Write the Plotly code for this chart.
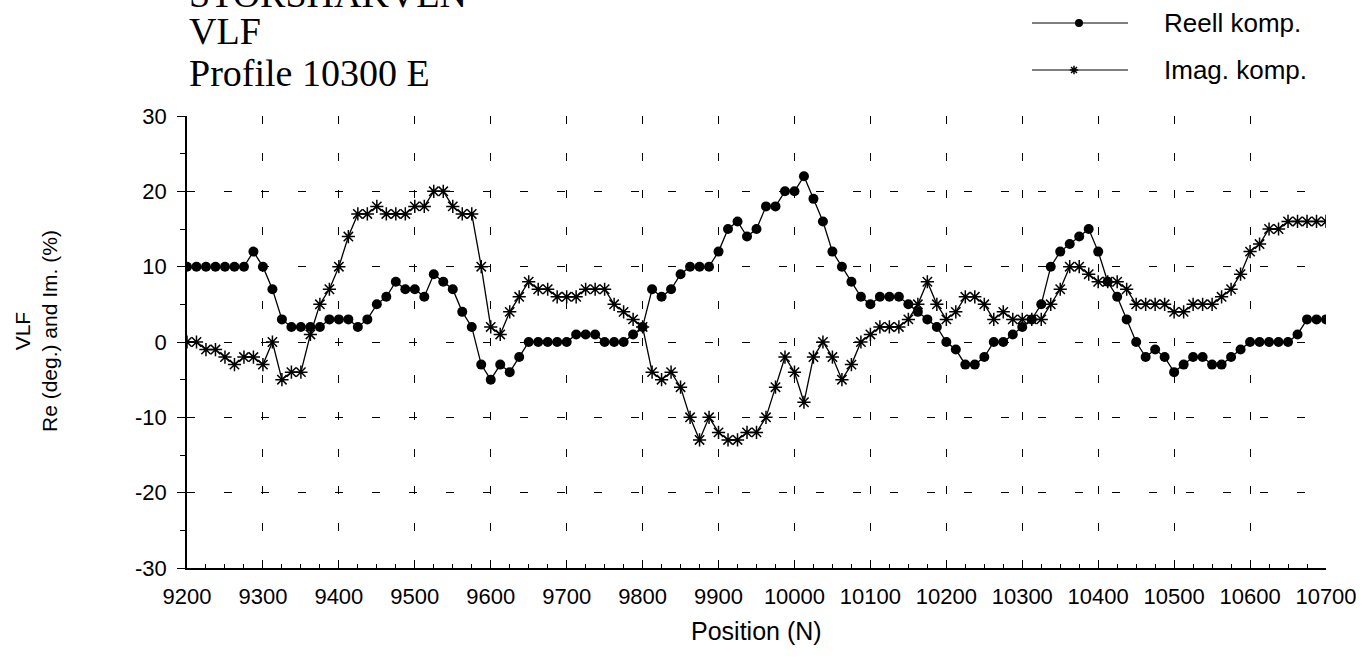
import plotly.graph_objects as go

# Station positions along the profile (N), every 12.5 m
positions = [9200 + 12.5 * i for i in range(121)]

# Real component (deg.)
reell = [10, 10, 10, 10, 10, 10, 10, 12, 10, 7,
         3, 2, 2, 2, 2, 3, 3, 3, 2, 3,
         5, 6, 8, 7, 7, 6, 9, 8, 7, 4,
         2, -3, -5, -3, -4, -2, 0, 0, 0, 0,
         0, 1, 1, 1, 0, 0, 0, 1, 2, 7,
         6, 7, 9, 10, 10, 10, 12, 15, 16, 14,
         15, 18, 18, 20, 20, 22, 19, 16, 12, 10,
         8, 6, 5, 6, 6, 6, 5, 4, 3, 2,
         0, -1, -3, -3, -2, 0, 0, 1, 2, 3,
         5, 10, 12, 13, 14, 15, 12, 8, 6, 3,
         0, -2, -1, -2, -4, -3, -2, -2, -3, -3,
         -2, -1, 0, 0, 0, 0, 0, 1, 3, 3,
         3]

# Imaginary component (%)
imag = [0, 0, -1, -1, -2, -3, -2, -2, -3, 0,
        -5, -4, -4, 1, 5, 7, 10, 14, 17, 17,
        18, 17, 17, 17, 18, 18, 20, 20, 18, 17,
        17, 10, 2, 1, 4, 6, 8, 7, 7, 6,
        6, 6, 7, 7, 7, 5, 4, 3, 2, -4,
        -5, -4, -6, -10, -13, -10, -12, -13, -13, -12,
        -12, -10, -6, -2, -4, -8, -2, 0, -2, -5,
        -3, 0, 1, 2, 2, 2, 3, 5, 8, 5,
        3, 4, 6, 6, 5, 3, 4, 3, 3, 3,
        3, 5, 7, 10, 10, 9, 8, 8, 8, 7,
        5, 5, 5, 5, 4, 4, 5, 5, 5, 6,
        7, 9, 12, 13, 15, 15, 16, 16, 16, 16,
        16]

x_ticks = list(range(9200, 10701, 100))
y_ticks = list(range(-30, 31, 10))

title_lines = ["STORSHAKVEN", "VLF", "Profile 10300 E"]
series_names = ["Reell komp.", "Imag. komp."]

SANS = "Liberation Sans, Arial, Helvetica, sans-serif"
SERIF = "Liberation Serif, Times New Roman, serif"
INK = "black"

W, H = 1365, 663
ML, MR, MB = 187, 39, 95
PLOT_TOP = 116                      # pixel row of the +30 line
plot_h = H - MB                     # paper height (top margin is zero)
plot_w = W - ML - MR
y_top = (plot_h - PLOT_TOP) / plot_h
BAND = 0.80                         # helper band for the legend samples
band_px = (1 - BAND) * plot_h


def paper_y(px):
    """Convert a pixel row (from the top of the page) to paper units."""
    return (plot_h - px) / plot_h


def paper_x(px):
    """Convert a pixel column (from the left of the page) to paper units."""
    return (px - ML) / plot_w


dot = dict(symbol="circle", size=10, color=INK)
star = dict(symbol="asterisk-open", size=11, color=INK, line=dict(color=INK, width=1.5))

fig = go.Figure()
fig.add_trace(go.Scatter(x=positions, y=reell, mode="lines+markers",
                         line=dict(color=INK, width=1.3), marker=dot,
                         name=series_names[0], showlegend=False))
fig.add_trace(go.Scatter(x=positions, y=imag, mode="lines+markers",
                         line=dict(color=INK, width=1.3), marker=star,
                         name=series_names[1], showlegend=False))

# Legend samples on a pixel-scaled helper axis in the top band
leg_rows = [23, 70]
leg_x0, leg_x1 = 1032, 1128
leg_mid = [1079, 1074]
leg_markers = [dict(symbol="circle", size=8, color=INK),
               dict(symbol="asterisk-open", size=7, color=INK,
                    line=dict(color=INK, width=1.5))]
for row, mid, mk in zip(leg_rows, leg_mid, leg_markers):
    fig.add_trace(go.Scatter(x=[leg_x0, leg_x1], y=[row, row], mode="lines",
                             line=dict(color=INK, width=1.2), xaxis="x2", yaxis="y2",
                             showlegend=False, hoverinfo="skip"))
    fig.add_trace(go.Scatter(x=[mid], y=[row], mode="markers", marker=mk,
                             xaxis="x2", yaxis="y2", showlegend=False, hoverinfo="skip"))

annotations = []
for row, name in zip(leg_rows, series_names):
    annotations.append(dict(x=paper_x(1162), y=paper_y(row), xref="paper", yref="paper",
                            text=name, showarrow=False,
                            xanchor="left", yanchor="middle",
                            font=dict(family=SANS, size=26, color=INK)))

# Title block (top line runs off the page edge)
for txt, cy in zip(title_lines, [-6, 31, 73]):
    annotations.append(dict(x=0, y=paper_y(cy), xref="paper", yref="paper", text=txt,
                            showarrow=False, xanchor="left", yanchor="middle",
                            font=dict(family=SERIF, size=38, color=INK)))

# Axis titles
annotations.append(dict(x=0.5, y=paper_y(631), xref="paper", yref="paper",
                        text="Position (N)", showarrow=False, xanchor="center",
                        yanchor="middle", font=dict(family=SANS, size=25, color=INK)))
annotations.append(dict(x=paper_x(36), y=paper_y(331),
                        xref="paper", yref="paper",
                        text="VLF<br>Re (deg.) and Im. (%)", showarrow=False,
                        textangle=-90, xanchor="center", yanchor="middle",
                        font=dict(family=SANS, size=21, color=INK)))

grid_dash = "8px,29px"
tick_font = dict(family=SANS, size=22, color=INK)
fig.update_layout(
    width=W, height=H,
    margin=dict(l=ML, r=MR, t=0, b=MB, pad=0, autoexpand=False),
    paper_bgcolor="white", plot_bgcolor="white",
    showlegend=False,
    annotations=annotations,
    xaxis=dict(range=[9200, 10700], tickvals=x_ticks, ticktext=[str(v) for v in x_ticks],
               showline=True, linecolor=INK, linewidth=1.5,
               ticks="inside", ticklen=6, tickcolor=INK, tickwidth=1,
               minor=dict(dtick=25, tick0=9200, ticks="inside", ticklen=4,
                          tickcolor=INK, showgrid=False),
               showgrid=True, gridcolor=INK, gridwidth=1, griddash=grid_dash,
               zeroline=False, tickfont=tick_font, ticklabelstandoff=8,
               domain=[0, 1], anchor="y"),
    yaxis=dict(range=[-30, 30], tickvals=y_ticks, ticktext=[str(v) for v in y_ticks],
               showline=True, linecolor=INK, linewidth=1.5,
               ticks="outside", ticklen=8, tickcolor=INK, tickwidth=1,
               minor=dict(dtick=5, tick0=0, ticks="outside", ticklen=5,
                          tickcolor=INK, showgrid=False),
               showgrid=True, gridcolor=INK, gridwidth=1, griddash=grid_dash,
               zeroline=False, tickfont=tick_font,
               ticklabelstandoff=6, domain=[0, y_top], anchor="x"),
    xaxis2=dict(range=[ML, W - MR], domain=[0, 1], anchor="y2", visible=False,
                fixedrange=True),
    yaxis2=dict(range=[band_px, 0], domain=[BAND, 1], anchor="x2",
                visible=False, fixedrange=True),
)

fig.write_html("out.html")
